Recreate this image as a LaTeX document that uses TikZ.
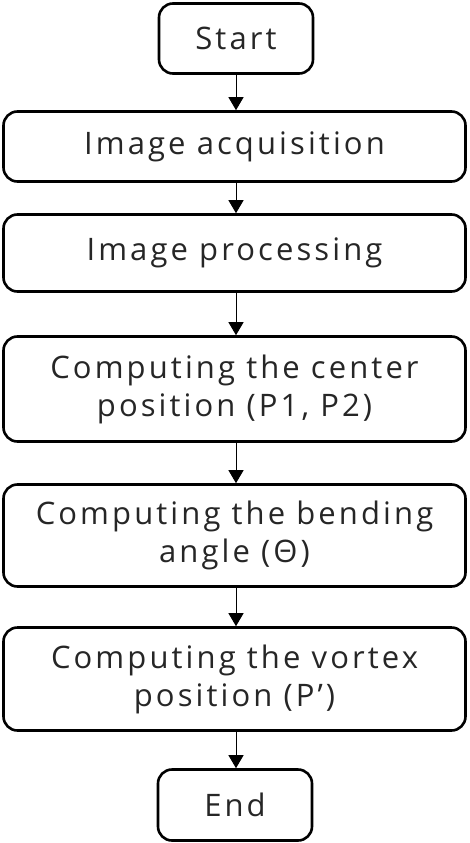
\documentclass[tikz,border=0pt]{standalone}
\usepackage{fontspec}
\setmainfont{Open Sans}[LetterSpace=10]
\usetikzlibrary{arrows.meta}
\begin{document}
\begin{tikzpicture}[x=1pt,y=-1pt,
  box/.style={draw=black, line width=2.6pt, rounded corners=14pt, align=center,
    font=\fontsize{31}{38}\selectfont, inner sep=0pt, text=black!85},
  wide/.style={box, minimum width=462pt},
  narrow/.style={box, minimum width=154pt},
  arr/.style={line width=1pt, -{Triangle[width=15pt,length=13pt]}}]
\useasboundingbox (0,0) rectangle (470,843);
\node[narrow, minimum height=70pt] (start) at (236,38.5) {Start};
\node[wide, minimum height=70pt] (acq) at (234.5,146.5) {Image acquisition};
\node[wide, minimum height=77pt] (proc) at (234.5,253) {Image processing};
\node[wide, minimum height=105pt] (cent) at (234.5,389) {Computing the center\\position (P1, P2)};
\node[wide, minimum height=102pt] (bend) at (234.5,535.5) {Computing the bending\\angle (Θ)};
\node[wide, minimum height=103pt] (vort) at (234.5,679) {Computing the vortex\\position (P’)};
\node[narrow, minimum height=71pt] (end) at (235,805) {End};
\draw[arr] (start.south -| 236,0) -- (acq.north -| 236,0);
\draw[arr] (acq.south -| 236,0) -- (proc.north -| 236,0);
\draw[arr] (proc.south -| 236,0) -- (cent.north -| 236,0);
\draw[arr] (cent.south -| 236,0) -- (bend.north -| 236,0);
\draw[arr] (bend.south -| 236,0) -- (vort.north -| 236,0);
\draw[arr] (vort.south -| 236,0) -- (end.north -| 236,0);
\end{tikzpicture}
\end{document}
